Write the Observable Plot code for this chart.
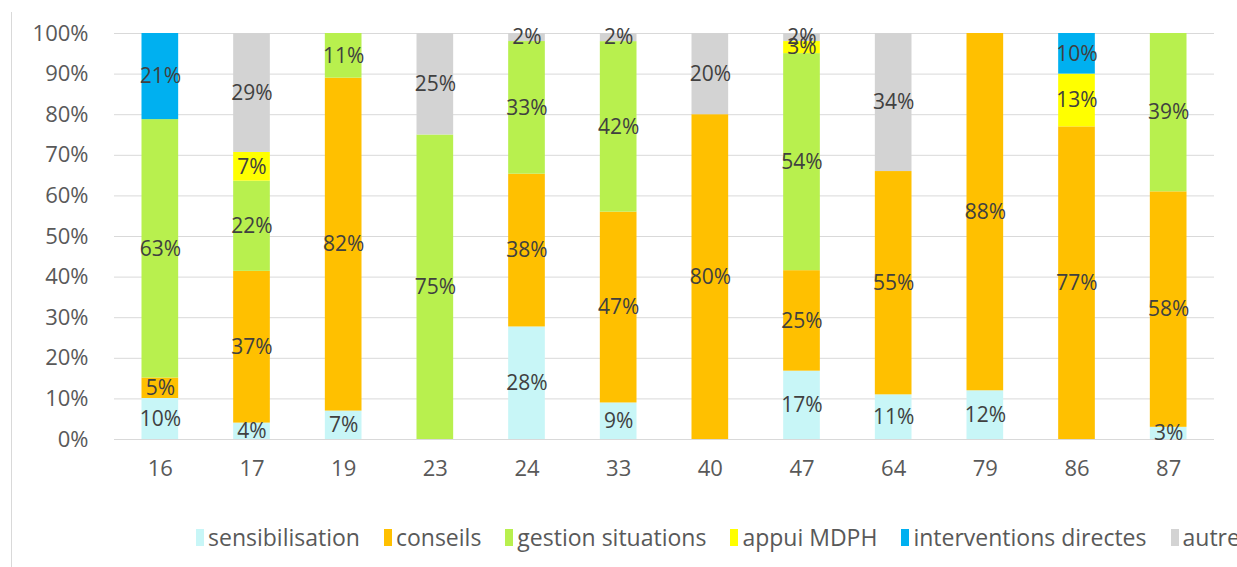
<!DOCTYPE html>
<html><head><meta charset="utf-8">
<script src="https://cdn.jsdelivr.net/npm/d3@7"></script>
<script src="https://cdn.jsdelivr.net/npm/@observablehq/plot@0.6"></script>
<style>
body{margin:0;background:#fff;width:1237px;height:567px;overflow:hidden;position:relative;font-family:"Open Sans",sans-serif;}
#frame{position:absolute;left:11px;top:12px;bottom:0;border-left:1px solid #d9d9d9;}
#chart{position:absolute;left:0;top:0;}
#legend{position:absolute;left:196px;top:523px;display:flex;white-space:nowrap;font-size:23px;color:#595959;line-height:28px;}
.item{display:flex;align-items:center;margin-right:24px}
.sw{width:8px;height:17px;margin-right:4px}
</style></head><body>
<div id="frame"></div><div id="chart"></div><div id="legend"></div>
<script>
const departements = ["16","17","19","23","24","33","40","47","64","79","86","87"];
const series = ["sensibilisation","conseils","gestion situations","appui MDPH","interventions directes","autres"];
const colors = ["#c8f6f7","#ffc000","#b8f04e","#ffff00","#00b0f0","#d3d3d3"];
const sensibilisation = [10,4,7,0,28,9,0,17,11,12,0,3];
const conseils        = [5,37,82,0,38,47,80,25,55,88,77,58];
const gestion         = [63,22,11,75,33,42,0,54,0,0,0,39];
const appui           = [0,7,0,0,0,0,0,3,0,0,13,0];
const interventions   = [21,0,0,0,0,0,0,0,0,0,10,0];
const autres          = [0,29,0,25,2,2,20,2,34,0,0,0];
const yTicks = [0,0.1,0.2,0.3,0.4,0.5,0.6,0.7,0.8,0.9,1];

const rows = [];
[sensibilisation, conseils, gestion, appui, interventions, autres].forEach((vals, s) =>
  vals.forEach((v, i) => { if (v > 0) rows.push({dep: departements[i], serie: series[s], value: v}); }));

const stackOpts = {x: "dep", y: "value", z: "serie", order: series, offset: "normalize"};

const plot = Plot.plot({
  width: 1237, height: 500,
  marginTop: 33, marginBottom: 61, marginLeft: 114, marginRight: 23,
  style: {fontFamily: "'Open Sans', sans-serif", fontSize: "22px", color: "#595959", background: "transparent"},
  x: {domain: departements, paddingInner: 0.6, paddingOuter: 0.3, round: false, label: null},
  y: {domain: [0, 1], label: null},
  color: {domain: series, range: colors},
  marks: [
    Plot.gridY(yTicks, {stroke: "#d9d9d9", strokeOpacity: 1}),
    Plot.barY(rows, Plot.stackY({...stackOpts, fill: "serie", inset: 0})),
    Plot.text(rows, Plot.stackY({...stackOpts, text: d => d.value + "%", fill: "#404040", fontSize: 21})),
    Plot.axisY(yTicks, {tickFormat: d3.format(".0%"), tickSize: 0, tickPadding: 26, label: null, fill: "#595959"}),
    Plot.axisX({tickSize: 0, tickPadding: 21, label: null, fill: "#595959"})
  ]
});
document.getElementById("chart").appendChild(plot);

const legend = document.getElementById("legend");
series.forEach((s, i) => {
  const it = document.createElement("div"); it.className = "item";
  const sw = document.createElement("span"); sw.className = "sw"; sw.style.background = colors[i];
  const tx = document.createElement("span"); tx.textContent = s;
  it.appendChild(sw); it.appendChild(tx); legend.appendChild(it);
});
</script>
</body></html>
